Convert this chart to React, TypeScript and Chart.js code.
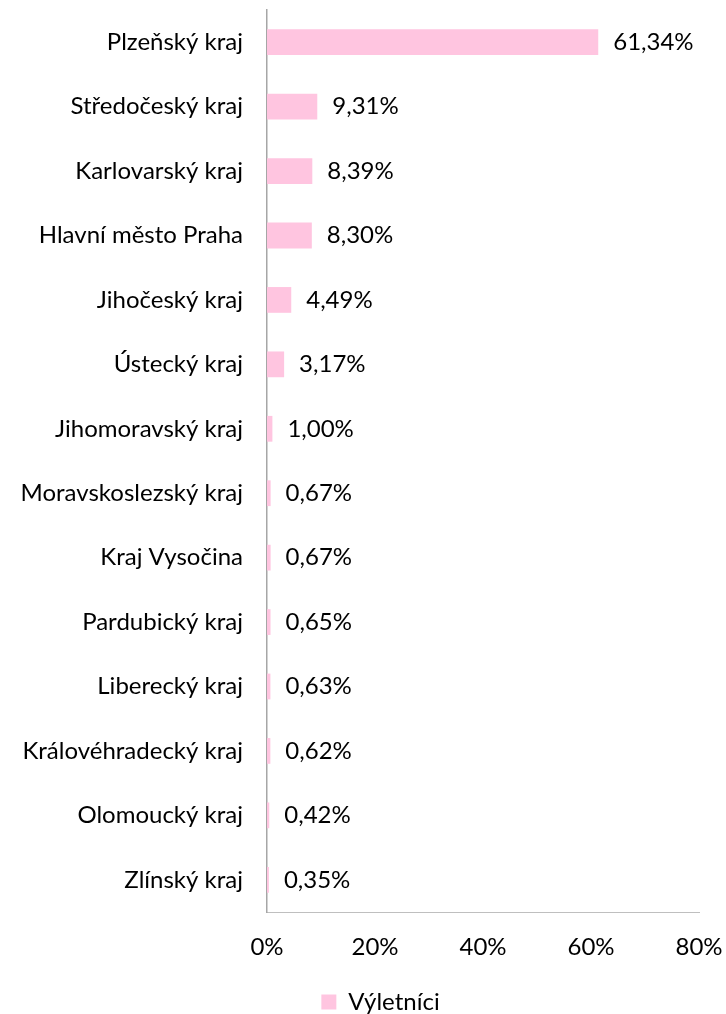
import React, { useEffect, useRef } from "react";
import { Chart, registerables } from "chart.js";

Chart.register(...registerables);

const categories = [
  "Plzeňský kraj",
  "Středočeský kraj",
  "Karlovarský kraj",
  "Hlavní město Praha",
  "Jihočeský kraj",
  "Ústecký kraj",
  "Jihomoravský kraj",
  "Moravskoslezský kraj",
  "Kraj Vysočina",
  "Pardubický kraj",
  "Liberecký kraj",
  "Královéhradecký kraj",
  "Olomoucký kraj",
  "Zlínský kraj",
];
const values = [61.34, 9.31, 8.39, 8.3, 4.49, 3.17, 1.0, 0.67, 0.67, 0.65, 0.63, 0.62, 0.42, 0.35];
const seriesName = "Výletníci";
const xTicks = [0, 20, 40, 60, 80];

const FONT = "Lato, 'Open Sans', sans-serif";
const SIZE = 24;
const BAR = "#FFC5E0";

const fmt = (v: number) => v.toFixed(2).replace(".", ",") + "%";

const labelPlugin = {
  id: "barLabels",
  afterDatasetsDraw(chart: any) {
    const ctx = chart.ctx;
    const meta = chart.getDatasetMeta(0);
    ctx.save();
    ctx.font = `${SIZE}px ${FONT}`;
    ctx.fillStyle = "#000";
    ctx.textAlign = "left";
    ctx.textBaseline = "middle";
    meta.data.forEach((el: any, i: number) => {
      ctx.fillText(fmt(values[i]), el.x + 15, el.y);
    });
    ctx.restore();
  },
};

export default function App() {
  const ref = useRef<HTMLCanvasElement>(null);
  useEffect(() => {
    if (!ref.current) return;
    const chart = new Chart(ref.current, {
      type: "bar",
      data: {
        labels: categories,
        datasets: [
          {
            label: seriesName,
            data: values,
            backgroundColor: BAR,
            borderWidth: 0,
            categoryPercentage: 1,
            barPercentage: 0.4,
          },
        ],
      },
      options: {
        indexAxis: "y",
        animation: false,
        responsive: true,
        maintainAspectRatio: false,
        layout: { padding: { top: 10, right: -35, bottom: -10, left: 0 } },
        plugins: {
          tooltip: { enabled: false },
          legend: {
            display: true,
            position: "bottom",
            labels: {
              boxWidth: 15,
              boxHeight: 15,
              padding: 0,
              color: "#000",
              font: { family: FONT, size: SIZE },
            },
          },
        },
        scales: {
          x: {
            min: 0,
            max: 80,
            afterBuildTicks: (s: any) => {
              s.ticks = xTicks.map((v) => ({ value: v }));
            },
            afterFit: (s: any) => {
              s.height = 78;
              s.paddingLeft = 0;
              s.paddingRight = 27;
            },
            grid: { display: false, drawTicks: true, tickLength: 21 },
            border: { display: true, color: "#BFBFBF", width: 1 },
            ticks: {
              padding: 0,
              color: "#000",
              font: { family: FONT, size: SIZE },
              callback: (v: any) => v + "%",
            },
          },
          y: {
            afterFit: (s: any) => {
              s.width = 267;
              s.paddingTop = 0;
              s.paddingBottom = 0;
            },
            grid: { display: false, drawTicks: true, tickLength: 24 },
            border: { display: true, color: "#A6A6A6", width: 1.5 },
            ticks: {
              padding: 0,
              color: "#000",
              font: { family: FONT, size: SIZE },
            },
          },
        },
      },
      plugins: [labelPlugin],
    });
    return () => chart.destroy();
  }, []);
  return (
    <div style={{ position: "absolute", left: 0, top: 0, width: 726, height: 1014 }}>
      <canvas ref={ref} />
    </div>
  );
}
